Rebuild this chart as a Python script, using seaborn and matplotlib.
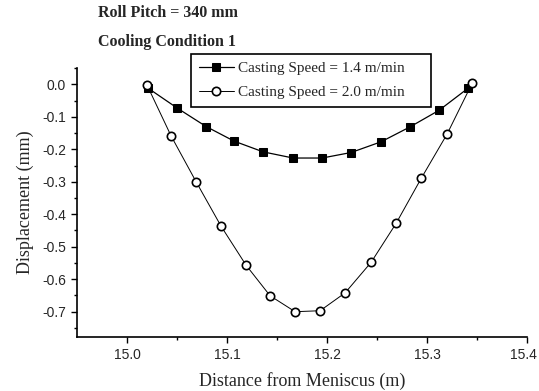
import matplotlib
matplotlib.use("Agg")
import matplotlib.pyplot as plt
import matplotlib.transforms as mtransforms
import numpy as np
import pandas as pd
import seaborn as sns

sns.set_style("ticks")
plt.rcParams["font.family"] = ["Liberation Serif", "DejaVu Serif"]

# casting speed 1.4 m/min
x_slow = [15.021, 15.050, 15.079, 15.107, 15.136, 15.166, 15.195, 15.224,
          15.254, 15.283, 15.312, 15.341]
y_slow = [-0.012, -0.073, -0.130, -0.175, -0.208, -0.227, -0.227, -0.210,
          -0.177, -0.131, -0.080, -0.012]

# casting speed 2.0 m/min
x_fast = [15.020, 15.044, 15.069, 15.094, 15.119, 15.143, 15.168, 15.193,
          15.218, 15.244, 15.269, 15.294, 15.320, 15.345]
y_fast = [-0.003, -0.159, -0.300, -0.437, -0.557, -0.651, -0.700, -0.697,
          -0.642, -0.548, -0.428, -0.290, -0.153, 0.003]

labels = ["Casting Speed = 1.4 m/min", "Casting Speed = 2.0 m/min"]
x_ticks = [15.0, 15.1, 15.2, 15.3, 15.4]
y_ticks = [0.0, -0.1, -0.2, -0.3, -0.4, -0.5, -0.6, -0.7]

df_slow = pd.DataFrame({"x": x_slow, "y": y_slow})
df_fast = pd.DataFrame({"x": x_fast, "y": y_fast})

fig = plt.figure(figsize=(5.39, 3.91), dpi=100)
ax = fig.add_axes([0.143, 0.138, 0.835, 0.688])

sns.lineplot(data=df_slow, x="x", y="y", ax=ax, color="black", lw=0.9,
             marker="s", markersize=6, markerfacecolor="black",
             markeredgecolor="black", label=labels[0], sort=False)
sns.lineplot(data=df_fast, x="x", y="y", ax=ax, color="black", lw=0.7,
             marker="o", markersize=6, markerfacecolor="white",
             markeredgecolor="black", markeredgewidth=1.2,
             label=labels[1], sort=False)

ax.set_xlim(14.95, 15.4)
ax.set_ylim(-0.778, 0.05)
ax.set_xticks(x_ticks)
ax.set_yticks(y_ticks)
ax.set_xticks([15.05, 15.15, 15.25, 15.35], minor=True)
ax.set_yticks([0.05, -0.05, -0.15, -0.25, -0.35, -0.45, -0.55, -0.65, -0.75], minor=True)
ax.set_xticklabels([f"{v:.1f}" for v in x_ticks], family="Liberation Sans", fontsize=10)
ax.set_yticklabels([f"{v:.1f}" for v in y_ticks], family="Liberation Sans", fontsize=10)
ax.tick_params(which="major", direction="out", length=4, width=1, color="black", pad=4)
ax.tick_params(which="minor", direction="out", length=2.5, width=1, color="black")
sns.despine(ax=ax)
for s in ["left", "bottom"]:
    ax.spines[s].set_linewidth(1.2)
    ax.spines[s].set_color("black")

# nudge the last x tick label so it stays inside the figure
last = ax.get_xticklabels()[-1]
last.set_transform(last.get_transform() +
                   mtransforms.ScaledTranslation(-4 / 100, 0, fig.dpi_scale_trans))

ax.set_xlabel("Distance from Meniscus (m)", fontsize=13, labelpad=7)
ax.set_ylabel("Displacement (mm)", fontsize=13, labelpad=6)

fig.text(98 / 539, 1 - 13 / 391, "Roll Pitch = 340 mm", fontsize=11.5,
         fontweight="bold", va="center", ha="left")
fig.text(98 / 539, 1 - 42 / 391, "Cooling Condition 1", fontsize=11.5,
         fontweight="bold", va="center", ha="left")

# legend box stretched to the width of the original frame
leg = ax.legend(loc="upper left", bbox_to_anchor=(0.253, 0.851, 0.534, 0.201),
                mode="expand", fontsize=11, frameon=True, fancybox=False,
                edgecolor="black", handlelength=2.3, borderpad=0.5,
                labelspacing=0.65, handletextpad=0.25, borderaxespad=0)
leg.get_frame().set_linewidth(1.2)
leg.get_frame().set_alpha(1)

fig.savefig("out.png", dpi=100)
